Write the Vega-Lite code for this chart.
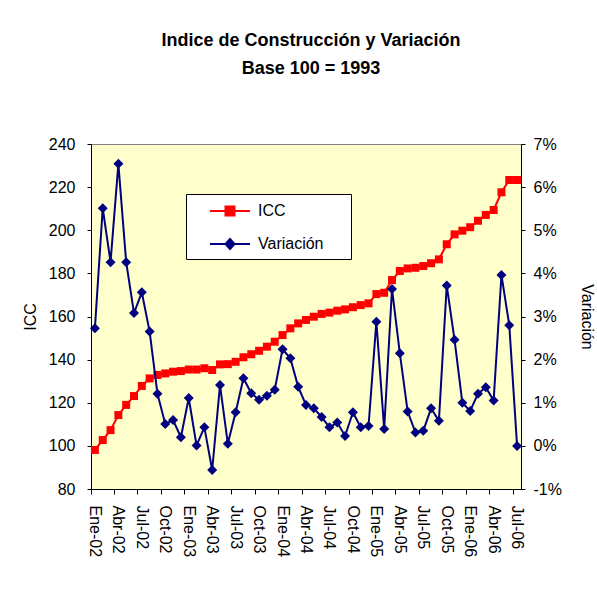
{
  "$schema": "https://vega.github.io/schema/vega-lite/v6.json",
  "width": 430,
  "height": 345,
  "autosize": {"type": "none"},
  "padding": {"left": 91, "top": 144, "right": 76, "bottom": 121},
  "background": "white",
  "title": {
    "text": ["Indice de Construcción y Variación", "Base 100 = 1993"],
    "font": "Liberation Sans",
    "fontSize": 18,
    "fontWeight": "bold",
    "color": "black",
    "anchor": "middle",
    "offset": 58,
    "lineHeight": 28,
    "dx": 5
  },
  "data": {
    "values": [
      {"m": "Ene-02", "icc": 98.1, "v": 2.73},
      {"m": "Feb-02", "icc": 102.7, "v": 5.51},
      {"m": "Mar-02", "icc": 107.3, "v": 4.26},
      {"m": "Abr-02", "icc": 114.3, "v": 6.54},
      {"m": "May-02", "icc": 119.0, "v": 4.26},
      {"m": "Jun-02", "icc": 123.1, "v": 3.08},
      {"m": "Jul-02", "icc": 127.8, "v": 3.56},
      {"m": "Ago-02", "icc": 131.3, "v": 2.65},
      {"m": "Sep-02", "icc": 132.9, "v": 1.21},
      {"m": "Oct-02", "icc": 133.6, "v": 0.51},
      {"m": "Nov-02", "icc": 134.4, "v": 0.6},
      {"m": "Dic-02", "icc": 134.7, "v": 0.2},
      {"m": "Ene-03", "icc": 135.4, "v": 1.11},
      {"m": "Feb-03", "icc": 135.4, "v": 0.01},
      {"m": "Mar-03", "icc": 136.0, "v": 0.43},
      {"m": "Abr-03", "icc": 135.2, "v": -0.56},
      {"m": "May-03", "icc": 137.8, "v": 1.41},
      {"m": "Jun-03", "icc": 137.9, "v": 0.05},
      {"m": "Jul-03", "icc": 139.0, "v": 0.78},
      {"m": "Ago-03", "icc": 141.1, "v": 1.57},
      {"m": "Sep-03", "icc": 142.5, "v": 1.22},
      {"m": "Oct-03", "icc": 144.1, "v": 1.07},
      {"m": "Nov-03", "icc": 146.0, "v": 1.16},
      {"m": "Dic-03", "icc": 148.3, "v": 1.3},
      {"m": "Ene-04", "icc": 151.4, "v": 2.24},
      {"m": "Feb-04", "icc": 154.5, "v": 2.03},
      {"m": "Mar-04", "icc": 156.8, "v": 1.37},
      {"m": "Abr-04", "icc": 158.4, "v": 0.95},
      {"m": "May-04", "icc": 159.9, "v": 0.87},
      {"m": "Jun-04", "icc": 161.2, "v": 0.67},
      {"m": "Jul-04", "icc": 161.8, "v": 0.43},
      {"m": "Ago-04", "icc": 162.7, "v": 0.54},
      {"m": "Sep-04", "icc": 163.3, "v": 0.23},
      {"m": "Oct-04", "icc": 164.3, "v": 0.78},
      {"m": "Nov-04", "icc": 165.3, "v": 0.43},
      {"m": "Dic-04", "icc": 166.1, "v": 0.46},
      {"m": "Ene-05", "icc": 170.4, "v": 2.88},
      {"m": "Feb-05", "icc": 171.0, "v": 0.39},
      {"m": "Mar-05", "icc": 176.9, "v": 3.64},
      {"m": "Abr-05", "icc": 181.1, "v": 2.15},
      {"m": "May-05", "icc": 182.3, "v": 0.8},
      {"m": "Jun-05", "icc": 182.6, "v": 0.31},
      {"m": "Jul-05", "icc": 183.4, "v": 0.35},
      {"m": "Ago-05", "icc": 184.7, "v": 0.87},
      {"m": "Sep-05", "icc": 186.5, "v": 0.58},
      {"m": "Oct-05", "icc": 193.5, "v": 3.72},
      {"m": "Nov-05", "icc": 198.1, "v": 2.46},
      {"m": "Dic-05", "icc": 199.8, "v": 1.0},
      {"m": "Ene-06", "icc": 201.4, "v": 0.81},
      {"m": "Feb-06", "icc": 204.4, "v": 1.21},
      {"m": "Mar-06", "icc": 207.1, "v": 1.36},
      {"m": "Abr-06", "icc": 209.4, "v": 1.05},
      {"m": "May-06", "icc": 217.6, "v": 3.96},
      {"m": "Jun-06", "icc": 223.3, "v": 2.8},
      {"m": "Jul-06", "icc": 223.3, "v": 0.0}
    ]
  },
  "encoding": {
    "x": {
      "field": "m",
      "type": "ordinal",
      "sort": null,
      "bandPosition": 0.5,
      "scale": {"type": "band", "paddingInner": 0, "paddingOuter": 0},
      "axis": {
        "title": null,
        "values": ["Ene-02", "Abr-02", "Jul-02", "Oct-02", "Ene-03", "Abr-03", "Jul-03", "Oct-03", "Ene-04", "Abr-04", "Jul-04", "Oct-04", "Ene-05", "Abr-05", "Jul-05", "Oct-05", "Ene-06", "Abr-06", "Jul-06"],
        "bandPosition": 0,
        "labelAngle": 90,
        "labelAlign": "left",
        "labelBaseline": "middle",
        "tickSize": 5,
        "labelPadding": 11,
        "grid": false
      }
    }
  },
  "layer": [
    {
      "encoding": {
        "y": {
          "field": "icc",
          "type": "quantitative",
          "scale": {"domain": [80, 240], "nice": false, "zero": false},
          "axis": {
            "orient": "left",
            "title": "ICC",
            "values": [80, 100, 120, 140, 160, 180, 200, 220, 240],
            "titlePadding": 10,
            "tickSize": 4,
            "labelPadding": 12,
            "grid": false
          }
        }
      },
      "layer": [
        {
          "mark": {"type": "line", "strokeWidth": 2},
          "encoding": {
            "color": {
              "datum": "ICC",
              "scale": {"domain": ["ICC", "Variación"], "range": ["#FF0000", "#000080"]},
              "legend": {
                "orient": "none",
                "legendX": 95,
                "legendY": 50,
                "title": null,
                "fillColor": "white",
                "strokeColor": "black",
                "padding": 6,
                "symbolSize": 400,
                "symbolType": "M0.7,0H4.7M2.25,-0.45H3.15V0.45H2.25Z",
                "labelOffset": 44,
                "labelFontSize": 16,
                "labelColor": "black",
                "rowPadding": 13,
                "encode": {
                  "symbols": {
                    "update": {
                      "shape": {"signal": "datum.value === 'ICC' ? 'M13.8,0M0.7,0H4.7M2.25,-0.45H3.15V0.45H2.25Z' : 'M13.8,0M0.7,0H4.7M2.7,-0.5L3.15,0L2.7,0.5L2.25,0Z'"},
                      "fill": {"signal": "datum.value === 'ICC' ? '#FF0000' : '#000080'"},
                      "stroke": {"signal": "datum.value === 'ICC' ? '#FF0000' : '#000080'"},
                      "strokeWidth": {"value": 2},
                      "size": {"value": 400},
                      "opacity": {"value": 1}
                    }
                  }
                }
              }
            }
          }
        },
        {
          "mark": {"type": "point", "shape": "square", "size": 64, "filled": true, "opacity": 1},
          "encoding": {"color": {"datum": "ICC"}}
        }
      ]
    },
    {
      "encoding": {
        "y": {
          "field": "v",
          "type": "quantitative",
          "scale": {"domain": [-1, 7], "nice": false, "zero": false},
          "axis": {
            "orient": "right",
            "title": "Variación",
            "values": [-1, 0, 1, 2, 3, 4, 5, 6, 7],
            "labelExpr": "datum.value + '%'",
            "titlePadding": 17,
            "tickSize": 4,
            "labelPadding": 8,
            "grid": false
          }
        }
      },
      "layer": [
        {
          "mark": {"type": "line", "strokeWidth": 2},
          "encoding": {"color": {"datum": "Variación"}}
        },
        {
          "mark": {"type": "point", "shape": "diamond", "size": 100, "filled": true, "opacity": 1},
          "encoding": {"color": {"datum": "Variación"}}
        }
      ]
    }
  ],
  "resolve": {"scale": {"y": "independent"}},
  "config": {
    "font": "Liberation Sans",
    "view": {"fill": "#FFFFCC", "stroke": "#808080"},
    "axis": {
      "domainColor": "black",
      "tickColor": "black",
      "labelColor": "black",
      "titleColor": "black",
      "labelFont": "Liberation Sans",
      "titleFont": "Liberation Sans",
      "labelFontSize": 16,
      "titleFontSize": 16,
      "titleFontWeight": "normal",
      "domainWidth": 1,
      "tickWidth": 1
    }
  }
}
